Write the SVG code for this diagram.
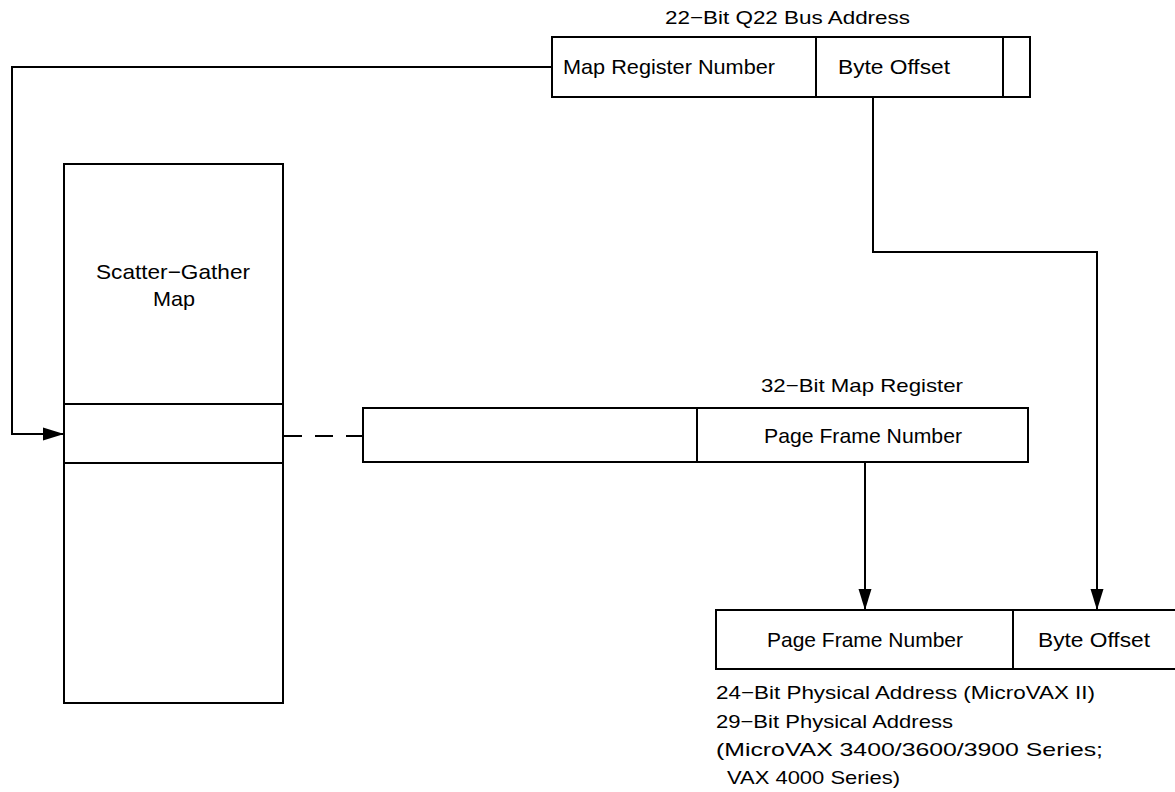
<svg xmlns="http://www.w3.org/2000/svg" width="1175" height="792" viewBox="0 0 1175 792">
<style>
  .box { fill: #fff; stroke: #000; stroke-width: 2; }
  .ln { fill: none; stroke: #000; stroke-width: 2; }
  .dash { fill: none; stroke: #000; stroke-width: 2; stroke-dasharray: 18 13; }
  text { font-family: "Liberation Sans", Arial, sans-serif; fill: #000; }
  .lbl { font-size: 21px; }
  .cap { font-size: 19px; }
</style>
<defs>
  <marker id="arr" markerUnits="userSpaceOnUse" markerWidth="22" markerHeight="16" refX="21" refY="8" orient="auto">
    <path d="M0,1.5 L21,8 L0,14.5 Z" fill="#000"/>
  </marker>
</defs>

<g id="q22-address">
  <text class="cap" x="665" y="24" textLength="245" lengthAdjust="spacingAndGlyphs">22−Bit Q22 Bus Address</text>
  <rect class="box" x="552" y="37" width="478" height="60"/>
  <line class="ln" x1="816" y1="37" x2="816" y2="97"/>
  <line class="ln" x1="1003" y1="37" x2="1003" y2="97"/>
  <text class="lbl" x="563" y="74" textLength="212" lengthAdjust="spacingAndGlyphs">Map Register Number</text>
  <text class="lbl" x="838" y="74" textLength="112" lengthAdjust="spacingAndGlyphs">Byte Offset</text>
</g>

<g id="scatter-gather-map">
  <rect class="box" x="64" y="164" width="219" height="539"/>
  <line class="ln" x1="64" y1="404" x2="283" y2="404"/>
  <line class="ln" x1="64" y1="463" x2="283" y2="463"/>
  <text class="lbl" x="96" y="279" textLength="154" lengthAdjust="spacingAndGlyphs">Scatter−Gather</text>
  <text class="lbl" x="153" y="306" textLength="42" lengthAdjust="spacingAndGlyphs">Map</text>
</g>

<g id="map-register">
  <text class="cap" x="761" y="392" textLength="202" lengthAdjust="spacingAndGlyphs">32−Bit Map Register</text>
  <rect class="box" x="363" y="408" width="665" height="54"/>
  <line class="ln" x1="697" y1="408" x2="697" y2="462"/>
  <text class="lbl" x="764" y="443" textLength="198" lengthAdjust="spacingAndGlyphs">Page Frame Number</text>
</g>

<g id="physical-address">
  <rect class="box" x="716" y="610" width="470" height="59"/>
  <line class="ln" x1="1013" y1="610" x2="1013" y2="669"/>
  <text class="lbl" x="767" y="647" textLength="196" lengthAdjust="spacingAndGlyphs">Page Frame Number</text>
  <text class="lbl" x="1038" y="647" textLength="112" lengthAdjust="spacingAndGlyphs">Byte Offset</text>
  <text class="cap" x="716" y="699" textLength="379" lengthAdjust="spacingAndGlyphs">24−Bit Physical Address (MicroVAX II)</text>
  <text class="cap" x="716" y="728" textLength="237" lengthAdjust="spacingAndGlyphs">29−Bit Physical Address</text>
  <text class="cap" x="716" y="756" textLength="387" lengthAdjust="spacingAndGlyphs">(MicroVAX 3400/3600/3900 Series;</text>
  <text class="cap" x="727" y="784" textLength="173" lengthAdjust="spacingAndGlyphs">VAX 4000 Series)</text>
</g>

<g id="connectors">
  <polyline class="ln" points="552,67 12,67 12,434 64,434" marker-end="url(#arr)"/>
  <line class="dash" x1="284" y1="436" x2="363" y2="436"/>
  <polyline class="ln" points="873,97 873,252 1097,252 1097,610" marker-end="url(#arr)"/>
  <line class="ln" x1="865" y1="462" x2="865" y2="610" marker-end="url(#arr)"/>
</g>
</svg>
